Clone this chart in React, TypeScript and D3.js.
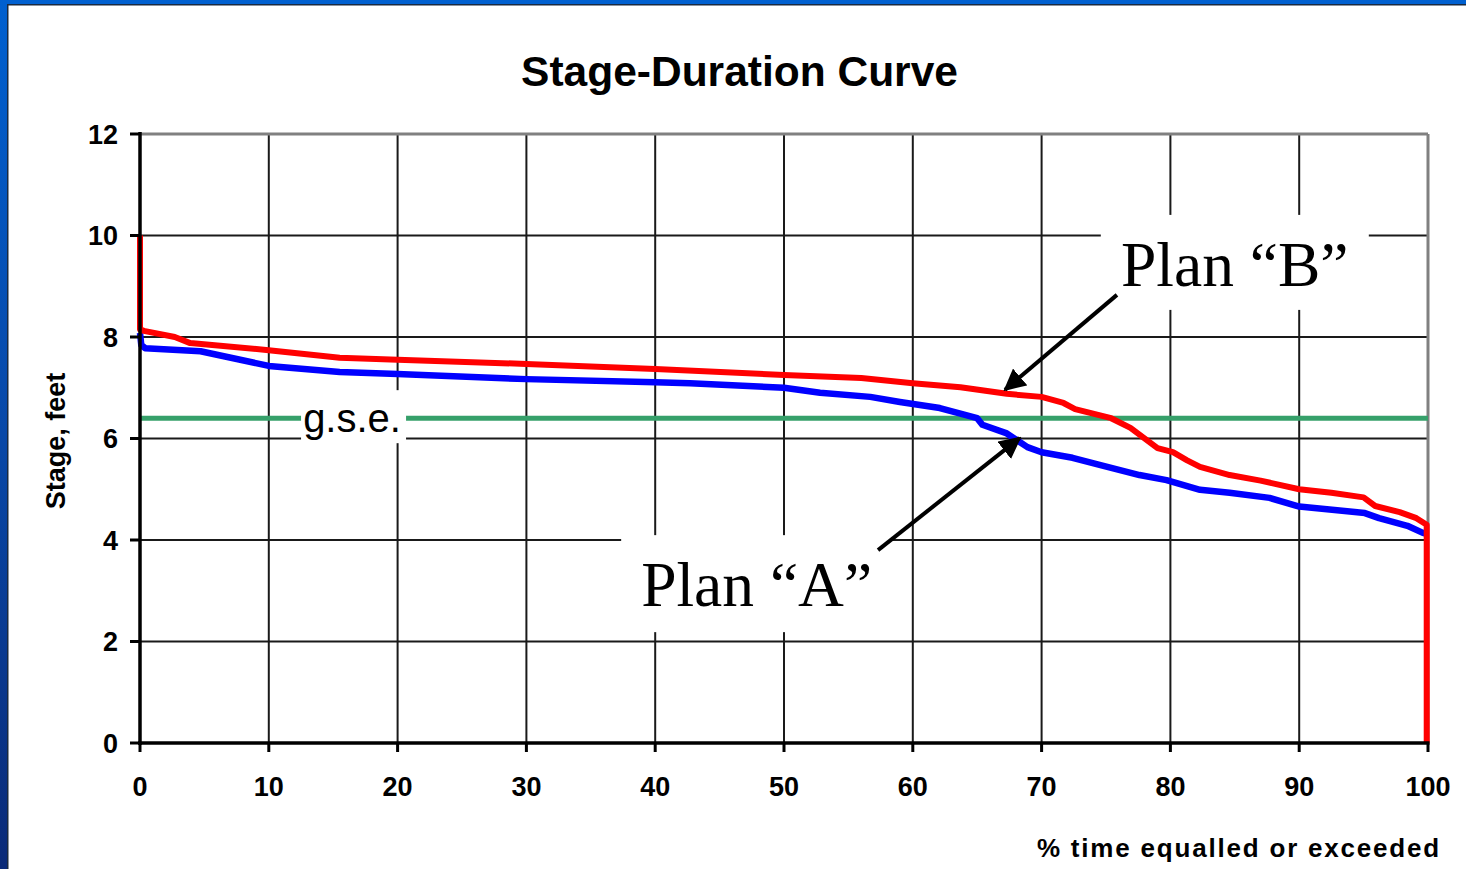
import React from "react";
import * as d3 from "d3";

const xTicks = [0, 10, 20, 30, 40, 50, 60, 70, 80, 90, 100];
const yTicks = [0, 2, 4, 6, 8, 10, 12];

const planBX = [0, 0, 0.3, 2.7, 3.9, 10, 15.5, 20, 30, 40, 50, 56, 60, 63.7, 67.3, 70, 71.7, 72.6, 75.4, 76.9, 79.0, 80.2, 81.3, 82.3, 84.6, 87, 90, 92.5, 95, 95.9, 97.8, 99.1, 99.9, 99.9];
const planBY = [10, 8.15, 8.12, 8.0, 7.88, 7.74, 7.59, 7.55, 7.47, 7.37, 7.25, 7.19, 7.09, 7.01, 6.88, 6.82, 6.70, 6.58, 6.40, 6.21, 5.81, 5.73, 5.57, 5.44, 5.28, 5.17, 5.0, 4.93, 4.84, 4.67, 4.55, 4.43, 4.30, 0];

const planAX = [0, 0.1, 0.4, 4.7, 10, 15.5, 20, 30, 40, 42.7, 50, 52.8, 56.7, 59.0, 62.1, 65.0, 65.4, 67.3, 68.9, 70, 72.4, 74.5, 77.6, 79.7, 82.3, 84.6, 87.7, 90, 95.1, 96.2, 98.4, 99.6, 99.9];
const planAY = [8.08, 7.84, 7.78, 7.72, 7.43, 7.31, 7.27, 7.17, 7.11, 7.09, 7.0, 6.9, 6.82, 6.72, 6.6, 6.40, 6.27, 6.1, 5.83, 5.73, 5.62, 5.48, 5.28, 5.18, 4.99, 4.93, 4.83, 4.66, 4.53, 4.43, 4.28, 4.14, 4.12];

const gseLevel = 6.4;

const labelTexts = ["Plan \u201CB\u201D", "Plan \u201CA\u201D", "g.s.e."];
const labelX = [85.0, 47.8, 16.58];
const labelY = [9.47, 3.14, 6.43];

const arrowFromX = [75.85, 57.3];
const arrowFromY = [8.83, 3.8];
const arrowToX = [67.16, 68.3];
const arrowToY = [6.96, 6.01];

export default function App() {
  const W = 1466, H = 869;
  const x = d3.scaleLinear().domain([0, 100]).range([140, 1428]);
  const y = d3.scaleLinear().domain([0, 12]).range([743, 134]);
  const line = d3.line<[number, number]>().x(d => x(d[0])).y(d => y(d[1]));
  const bPts = planBX.map((v, i) => [v, planBY[i]] as [number, number]);
  const aPts = planAX.map((v, i) => [v, planAY[i]] as [number, number]);

  const boxW = [268, 269, 105];
  const boxH = [95, 97, 53];
  const textDy = [23.5, 22.5, 15.5];
  const textDx = [0, 1, -1.5];
  const fontFam = ["'Liberation Serif', 'Times New Roman', serif", "'Liberation Serif', 'Times New Roman', serif", "'Liberation Sans', Arial, sans-serif"];
  const fontSz = [63.5, 63.5, 40];

  return (
    <svg width={W} height={H} style={{ position: "absolute", left: 0, top: 0, background: "#fff" }}>
      <defs>
        <linearGradient id="leftband" x1="0" y1="0" x2="0" y2="1">
          <stop offset="0" stopColor="#0060d0" />
          <stop offset="0.5" stopColor="#0848a8" />
          <stop offset="1" stopColor="#0a2a78" />
        </linearGradient>
        <marker id="ah" viewBox="0 0 10 10" refX="9" refY="5" markerWidth="5.5" markerHeight="5.5" orient="auto" markerUnits="strokeWidth">
          <path d="M0,0 L10,5 L0,10 z" fill="#000" />
        </marker>
      </defs>
      <rect x={0} y={0} width={W} height={H} fill="#fff" />
      <rect x={0} y={0} width={W} height={4} fill="#0060d0" />
      <rect x={0} y={4} width={W} height={1.5} fill="#1a2a40" />
      <rect x={0} y={0} width={7} height={H} fill="url(#leftband)" />
      <rect x={7} y={4} width={1.5} height={H} fill="#1a2a40" />

      {/* grid */}
      {yTicks.filter(t => t > 0 && t < 12).map(t => (
        <line key={"gy" + t} x1={x(0)} x2={x(100)} y1={y(t)} y2={y(t)} stroke="#1a1a1a" strokeWidth={2} />
      ))}
      {xTicks.filter(t => t > 0 && t < 100).map(t => (
        <line key={"gx" + t} x1={x(t)} x2={x(t)} y1={y(0)} y2={y(12)} stroke="#1a1a1a" strokeWidth={2} />
      ))}
      <line x1={x(0)} x2={x(100)} y1={y(12)} y2={y(12)} stroke="#808080" strokeWidth={3} />
      <line x1={x(100)} x2={x(100)} y1={y(12)} y2={y(0)} stroke="#808080" strokeWidth={3} />

      {/* g.s.e. */}
      <line x1={x(0)} x2={x(100)} y1={y(gseLevel)} y2={y(gseLevel)} stroke="#36a06a" strokeWidth={5} />

      {/* label boxes */}
      {labelTexts.map((t, i) => (
        <g key={"lb" + i}>
          <rect x={x(labelX[i]) - boxW[i] / 2} y={y(labelY[i]) - boxH[i] / 2} width={boxW[i]} height={boxH[i]} fill="#fff" />
          <text x={x(labelX[i]) + textDx[i]} y={y(labelY[i]) + textDy[i]} textAnchor="middle" fontFamily={fontFam[i]} fontSize={fontSz[i]} fill="#000">{t}</text>
        </g>
      ))}

      {/* curves */}
      <path d={line(aPts) || ""} fill="none" stroke="#0000ff" strokeWidth={6.5} strokeLinejoin="round" />
      <path d={line(bPts) || ""} fill="none" stroke="#ff0000" strokeWidth={6} strokeLinejoin="round" />

      {/* axes */}
      <line x1={x(0)} x2={x(0)} y1={y(12) - 2} y2={y(0) + 2} stroke="#000" strokeWidth={3.5} />
      <line x1={x(0) - 2} x2={x(100) + 1.5} y1={y(0)} y2={y(0)} stroke="#000" strokeWidth={3.5} />
      {yTicks.map(t => (
        <g key={"yt" + t}>
          <line x1={x(0) - 10} x2={x(0)} y1={y(t)} y2={y(t)} stroke="#000" strokeWidth={3} />
          <text x={118} y={y(t)} dy="0.36em" textAnchor="end" fontFamily="'Liberation Sans', Arial, sans-serif" fontWeight="bold" fontSize={27} fill="#000">{t}</text>
        </g>
      ))}
      {xTicks.map(t => (
        <g key={"xt" + t}>
          <line x1={x(t)} x2={x(t)} y1={y(0)} y2={y(0) + 9} stroke="#000" strokeWidth={3} />
          <text x={x(t)} y={796} textAnchor="middle" fontFamily="'Liberation Sans', Arial, sans-serif" fontWeight="bold" fontSize={27} fill="#000">{t}</text>
        </g>
      ))}

      {/* arrows */}
      {arrowFromX.map((v, i) => (
        <line key={"ar" + i} x1={x(v)} y1={y(arrowFromY[i])} x2={x(arrowToX[i])} y2={y(arrowToY[i])} stroke="#000" strokeWidth={4} markerEnd="url(#ah)" />
      ))}

      {/* titles */}
      <text x={739.5} y={86} textAnchor="middle" fontFamily="'Liberation Sans', Arial, sans-serif" fontWeight="bold" fontSize={42.5} fill="#000">Stage-Duration Curve</text>
      <text transform="translate(65,441) rotate(-90)" textAnchor="middle" fontFamily="'Liberation Sans', Arial, sans-serif" fontWeight="bold" fontSize={27} fill="#000">Stage, feet</text>
      <text x={1441} y={857} textAnchor="end" fontFamily="'Liberation Sans', Arial, sans-serif" fontWeight="bold" fontSize={26} letterSpacing={1.8} fill="#000">% time equalled or exceeded</text>
    </svg>
  );
}
